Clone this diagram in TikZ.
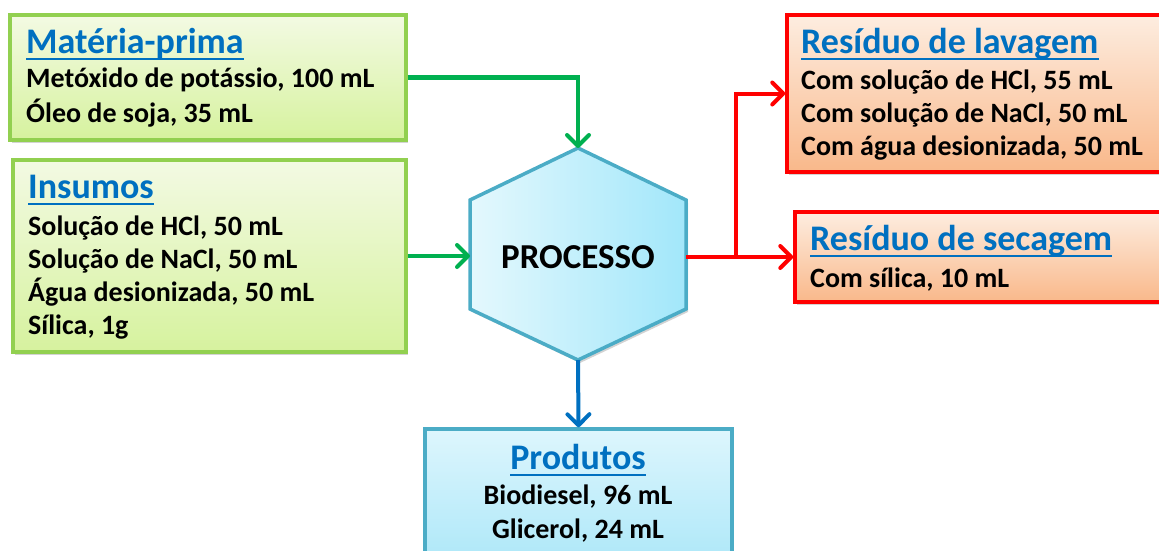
\documentclass[tikz,border=0pt]{standalone}
\usepackage{fontspec}
\setmainfont{Carlito}
\usetikzlibrary{arrows.meta,shadows}
\definecolor{gborder}{HTML}{92D050}
\definecolor{gtop}{HTML}{F3FAE3}
\definecolor{gbot}{HTML}{D6F29E}
\definecolor{rborder}{HTML}{FF0000}
\definecolor{rtop}{HTML}{FDEDE0}
\definecolor{rbot}{HTML}{F9B88A}
\definecolor{bborder}{HTML}{4BACC6}
\definecolor{btop}{HTML}{DDF6FD}
\definecolor{bbot}{HTML}{A8E6F8}
\definecolor{hleftc}{HTML}{E4F8FD}
\definecolor{hrightc}{HTML}{A2E7FA}
\definecolor{ttl}{HTML}{0070C0}
\definecolor{garr}{HTML}{00B050}
\definecolor{barr}{HTML}{0070C0}
\tikzset{
  boxbase/.style={rectangle, line width=3.5pt, inner sep=0pt,
    drop shadow={shadow xshift=2pt, shadow yshift=-3pt, opacity=0.35}},
  gbox/.style={boxbase, draw=gborder, top color=gtop, bottom color=gbot},
  rbox/.style={boxbase, draw=rborder, top color=rtop, bottom color=rbot},
  bbox/.style={boxbase, draw=bborder, top color=btop, bottom color=bbot},
  ttlw/.style={anchor=base west, inner sep=0pt, text=ttl, font=\bfseries\fontsize{36}{40}\selectfont},
  ttlc/.style={anchor=base, inner sep=0pt, text=ttl, font=\bfseries\fontsize{36}{40}\selectfont},
  bodyw/.style={anchor=base west, inner sep=0pt, font=\bfseries\fontsize{28}{32}\selectfont},
  bodyc/.style={anchor=base, inner sep=0pt, font=\bfseries\fontsize{28}{32}\selectfont},
  uline/.style={draw=ttl, line width=2.2pt},
  tipstyle/.style={-{Straight Barb[length=11pt,width=22pt,line width=4pt,round]}},
  garrow/.style={draw=garr, line width=4pt, tipstyle},
  rarrow/.style={draw=rborder, line width=4pt, tipstyle},
  barrow/.style={draw=barr, line width=4pt, tipstyle},
}
\begin{document}
\begin{tikzpicture}[x=1pt,y=-1pt]
\useasboundingbox (0,0) rectangle (1159,551);
\clip (0,0) rectangle (1159,551);

% boxes
\node[gbox, minimum width=396pt, minimum height=125pt] (mp) at (208,77.5) {};
\node[gbox, minimum width=393pt, minimum height=192pt] (ins) at (209.5,256) {};
\node[rbox, minimum width=390pt, minimum height=157pt] (lav) at (982,93.5) {};
\node[rbox, minimum width=380pt, minimum height=90pt] (sec) at (985,257) {};
\node[bbox, minimum width=307pt, minimum height=150pt] (prod) at (578.5,504) {};

% hexagon
\coordinate (hul) at (470,200);
\coordinate (htop) at (578,148);
\coordinate (hur) at (686,200);
\coordinate (hlr) at (686,309);
\coordinate (hbot) at (578,360);
\coordinate (hll) at (470,309);
\path[draw=bborder, line width=3.5pt, left color=hleftc, right color=hrightc,
  drop shadow={shadow xshift=2pt, shadow yshift=-3pt, opacity=0.35}]
  (hul) -- (htop) -- (hur) -- (hlr) -- (hbot) -- (hll) -- cycle;
\node[bodyc, font=\bfseries\fontsize{35}{38}\selectfont] (proc) at (578,268) {PROCESSO};
\coordinate (hw) at (470,256);
\coordinate (he) at (686,257);
\coordinate (split) at (736,257);

% texts: Materia-prima
\node[ttlw] (t1) at (26,53) {Matéria-prima};
\draw[uline] ([yshift=-6pt]t1.base west) -- ([yshift=-6pt]t1.base east);
\node[bodyw] (m1) at (26,88) {Metóxido de potássio, 100 mL};
\node[bodyw] (m2) at (26,122) {Óleo de soja, 35 mL};

% Insumos
\node[ttlw] (t2) at (28,198) {Insumos};
\draw[uline] ([yshift=-6pt]t2.base west) -- ([yshift=-6pt]t2.base east);
\node[bodyw] (i1) at (28,235) {Solução de HCl, 50 mL};
\node[bodyw] (i2) at (28,268) {Solução de NaCl, 50 mL};
\node[bodyw] (i3) at (28,301) {Água desionizada, 50 mL};
\node[bodyw] (i4) at (28,334) {Sílica, 1g};

% Residuo de lavagem
\node[ttlw] (t3) at (801,53) {Resíduo de lavagem};
\draw[uline] ([yshift=-6pt]t3.base west) -- ([yshift=-6pt]t3.base east);
\node[bodyw] (l1) at (801,89) {Com solução de HCl, 55 mL};
\node[bodyw] (l2) at (801,122) {Com solução de NaCl, 50 mL};
\node[bodyw] (l3) at (801,155) {Com água desionizada, 50 mL};

% Residuo de secagem
\node[ttlw] (t4) at (810,250) {Resíduo de secagem};
\draw[uline] ([yshift=-6pt]t4.base west) -- ([yshift=-6pt]t4.base east);
\node[bodyw] (s1) at (810,287) {Com sílica, 10 mL};

% Produtos
\node[ttlc] (t5) at (578,469) {Produtos};
\draw[uline] ([yshift=-6pt]t5.base west) -- ([yshift=-6pt]t5.base east);
\node[bodyc] (p1) at (578,504) {Biodiesel, 96 mL};
\node[bodyc] (p2) at (578,538) {Glicerol, 24 mL};

% connectors
\draw[garrow] (mp.east) -| (htop);
\draw[garrow] (ins.east) -- (hw);
\draw[rarrow] (he) -- (split) |- (lav.west);
\draw[rarrow] (split) -- (sec.west);
\draw[barrow] (hbot) -- (prod.north);
\end{tikzpicture}
\end{document}
